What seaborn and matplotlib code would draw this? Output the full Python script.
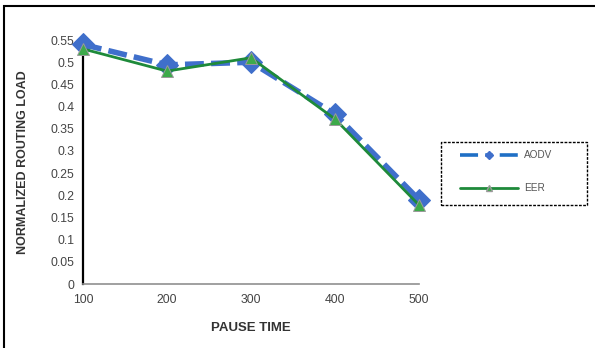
import matplotlib
matplotlib.use("Agg")
import matplotlib.pyplot as plt
from matplotlib.lines import Line2D
from matplotlib.patches import Rectangle
import seaborn as sns
import pandas as pd

pause_time = [100, 200, 300, 400, 500]
aodv = [0.54, 0.494, 0.50, 0.383, 0.19]
eer = [0.53, 0.48, 0.51, 0.372, 0.178]
y_ticks = [0, 0.05, 0.1, 0.15, 0.2, 0.25, 0.3, 0.35, 0.4, 0.45, 0.5, 0.55]
y_tick_labels = ["0", "0.05", "0.1", "0.15", "0.2", "0.25", "0.3", "0.35", "0.4", "0.45", "0.5", "0.55"]

sns.set_style("white")
plt.rcParams["font.family"] = ["Liberation Sans", "DejaVu Sans"]

df_aodv = pd.DataFrame({"pause": pause_time, "nrl": aodv})
df_eer = pd.DataFrame({"pause": pause_time, "nrl": eer})

fig = plt.figure(figsize=(5.95, 3.48), dpi=100)
ax = fig.add_axes([0.1395, 0.1839, 0.5647, 0.701])

blue = "#3F6FCB"
green = "#1E8A3A"

sns.lineplot(data=df_aodv, x="pause", y="nrl", ax=ax, color=blue, lw=4.0,
             marker="D", markersize=11, markeredgecolor=blue, zorder=3)
ax.lines[-1].set_dashes((3.4, 1.3))
sns.lineplot(data=df_eer, x="pause", y="nrl", ax=ax, color=green, lw=2.0,
             marker="^", markersize=8.5, markerfacecolor="#3DAA4A",
             markeredgecolor="#9a9a9a", markeredgewidth=0.7, zorder=4)

ax.set_xlim(100, 500)
ax.set_ylim(0, 0.55)
ax.set_xticks(pause_time)
ax.set_xticklabels([str(p) for p in pause_time])
ax.set_yticks(y_ticks)
ax.set_yticklabels(y_tick_labels)
ax.tick_params(axis="both", which="both", length=3, width=1, direction="out",
               labelsize=8.8, pad=3)
ax.tick_params(axis="y", colors="black", labelcolor="#444444")
ax.tick_params(axis="x", colors="#808080", labelcolor="#444444", pad=4)
for side in ["top", "right"]:
    ax.spines[side].set_visible(False)
ax.spines["left"].set_color("black")
ax.spines["left"].set_linewidth(1.6)
ax.spines["bottom"].set_color("#909090")
ax.spines["bottom"].set_linewidth(1.2)

ax.set_xlabel("PAUSE TIME", fontsize=9.5, fontweight="bold", color="#333333", labelpad=12)
ax.set_ylabel("NORMALIZED ROUTING LOAD", fontsize=9, fontweight="bold", color="#333333", labelpad=16)
for ln in ax.lines:
    ln.set_clip_on(False)

# legend: entries without frame, plus a dashed box around them
handles = [
    Line2D([], [], color="#1F6FC5", lw=2.6, dashes=(5, 2, 2, 2), marker="D",
           markersize=4, markerfacecolor=blue, markeredgecolor=blue),
    Line2D([], [], color=green, lw=2.0, marker="^", markersize=4,
           markerfacecolor="#3DAA4A", markeredgecolor="#9a9a9a"),
]
leg = fig.legend(handles, ["AODV", "EER"], loc="center left",
                 bbox_to_anchor=(460 / 595, 1 - 172 / 348),
                 frameon=False, fontsize=7.2, handlelength=5.8,
                 handletextpad=0.6, labelspacing=2.3, borderpad=0,
                 borderaxespad=0, labelcolor="#555555")
fig.add_artist(Rectangle((441 / 595, 1 - 205 / 348), 146 / 595, 63 / 348,
                         transform=fig.transFigure, fill=False, edgecolor="black",
                         linewidth=1.0, linestyle=(0, (2, 1))))

# outer frame along the top and left edges of the figure
fig.add_artist(Rectangle((4 / 595, -0.1), 1.2, 1.1 - 6 / 348, transform=fig.transFigure,
                         fill=False, edgecolor="black", linewidth=1.5))

fig.savefig("out.png", dpi=100)
